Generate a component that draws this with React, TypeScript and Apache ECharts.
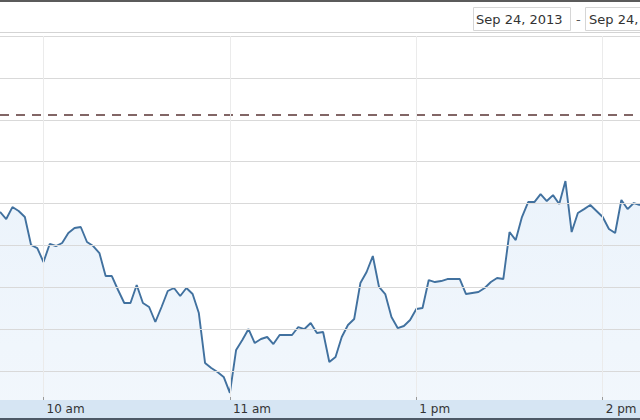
import React, { useEffect, useRef } from "react";
import * as echarts from "echarts";

// Intraday index values, Sep 24, 2013 (one point every ~2 minutes)
const prices = [
  2214.0, 2213.15, 2214.58, 2214.11, 2213.39, 2210.05, 2209.69, 2208.02, 2210.17, 2209.93,
  2210.29, 2211.48, 2212.08, 2212.2, 2210.41, 2209.93, 2209.09, 2206.35, 2206.35, 2204.68,
  2203.13, 2203.13, 2205.27, 2203.13, 2202.65, 2200.86, 2202.65, 2204.56, 2204.92, 2203.96,
  2204.92, 2204.2, 2201.93, 2195.97, 2195.37, 2194.89, 2194.3, 2192.39, 2197.52, 2198.71,
  2200.02, 2198.35, 2198.83, 2199.07, 2198.23, 2199.31, 2199.31, 2199.31, 2200.26, 2200.02,
  2200.74, 2199.55, 2199.67, 2196.09, 2196.68, 2199.07, 2200.5, 2201.22, 2205.51, 2206.83,
  2208.74, 2205.04, 2204.2, 2201.46, 2200.14, 2200.38, 2201.1, 2202.41, 2202.53, 2205.87,
  2205.63, 2205.75, 2205.99, 2205.99, 2205.99, 2204.2, 2204.32, 2204.44, 2204.92, 2205.63,
  2206.11, 2205.99, 2211.6, 2210.64, 2213.39, 2215.18, 2215.18, 2216.13, 2215.3, 2216.01,
  2214.94, 2217.68, 2211.6, 2213.87, 2214.34, 2214.82, 2214.11, 2213.39, 2211.96, 2211.48,
  2215.42, 2214.34, 2215.06, 2214.82,
];
const categories = prices.map((_, i) => String(i));
const tickIndexes = [7, 37, 67, 97];
const tickLabels = ["10 am", "11 am", "1 pm", "2 pm"];
const gridValues = [2195, 2200, 2205, 2210, 2215, 2220, 2225, 2230, 2235];
const prevClose = 2225.56;
const yMin = 2191.55;
const yMax = 2235;
const dateFrom = "Sep 24, 2013";
const dateTo = "Sep 24, 2013";

const isTick = (i: number) => tickIndexes.indexOf(i) >= 0;

export default function App() {
  const ref = useRef<HTMLDivElement>(null);
  useEffect(() => {
    if (!ref.current) return;
    const chart = echarts.init(ref.current, null, { renderer: "svg" });
    const font = "DejaVu Sans, Verdana, sans-serif";
    chart.setOption({
      animation: false,
      backgroundColor: "#ffffff",
      grid: { left: -3.5, right: -3.3, top: 36, bottom: 20, containLabel: false },
      xAxis: {
        type: "category",
        data: categories,
        boundaryGap: false,
        z: 10,
        axisLine: { show: false },
        axisTick: {
          show: true,
          inside: true,
          length: 3,
          interval: (i: number) => isTick(i),
          lineStyle: { color: "#9a9a9a" },
        },
        axisLabel: {
          interval: (i: number) => isTick(i),
          formatter: (_v: string, i: number) => tickLabels[tickIndexes.indexOf(i)] || "",
          align: "left",
          margin: 3,
          padding: [0, 0, 0, 3],
          color: "#333333",
          fontSize: 12,
          fontFamily: font,
        },
        splitLine: {
          show: true,
          interval: (i: number) => isTick(i),
          lineStyle: { color: "#ebebeb", width: 1 },
        },
      },
      yAxis: {
        type: "value",
        min: yMin,
        max: yMax,
        show: true,
        axisLine: { show: false },
        axisTick: { show: false },
        axisLabel: { show: false },
        splitLine: { show: false },
      },
      series: [
        {
          type: "line",
          data: prices,
          symbol: "none",
          smooth: false,
          lineStyle: { color: "#41719f", width: 1.9 },
          itemStyle: { color: "#41719f" },
          areaStyle: {
            color: new echarts.graphic.LinearGradient(0, 0, 0, 1, [
              { offset: 0, color: "rgba(80,150,220,0.16)" },
              { offset: 1, color: "rgba(80,150,220,0.11)" },
            ]),
          },
          markLine: {
            silent: true,
            symbol: ["none", "none"],
            label: { show: false },
            data: [
              ...gridValues.map((v) => ({
                yAxis: v,
                lineStyle: { color: "#d9d9d9", width: 1, type: "solid" },
              })),
              {
                yAxis: prevClose,
                lineStyle: { color: "#5a3535", width: 1.5, type: [9, 7] },
              },
            ],
          },
        },
      ],
      graphic: [
        { type: "rect", z: 1, shape: { x: 0, y: 0, width: 640, height: 2 }, style: { fill: "#5b5b5b" } },
        {
          type: "rect",
          z: 1,
          shape: { x: 473.5, y: 7.5, width: 97, height: 23 },
          style: { fill: "#ffffff", stroke: "#d6d6d6", lineWidth: 1 },
        },
        {
          type: "text",
          z: 2,
          x: 476,
          y: 19,
          style: { text: dateFrom, fill: "#333333", font: `13px ${font}`, verticalAlign: "middle" },
        },
        {
          type: "text",
          z: 2,
          x: 576,
          y: 19,
          style: { text: "-", fill: "#555555", font: `13px ${font}`, verticalAlign: "middle" },
        },
        {
          type: "rect",
          z: 1,
          shape: { x: 585.5, y: 7.5, width: 110, height: 23 },
          style: { fill: "#ffffff", stroke: "#d6d6d6", lineWidth: 1 },
        },
        {
          type: "text",
          z: 2,
          x: 589,
          y: 19,
          style: { text: dateTo, fill: "#333333", font: `13px ${font}`, verticalAlign: "middle" },
        },
        { type: "rect", z: 1, shape: { x: 0, y: 32, width: 640, height: 1 }, style: { fill: "#d4d4d4" } },
        { type: "rect", z: 1, shape: { x: 0, y: 400, width: 640, height: 18 }, style: { fill: "#d6e5f3" } },
        { type: "rect", z: 1, shape: { x: 0, y: 418, width: 640, height: 2 }, style: { fill: "#4d5966" } },
      ],
    });
    return () => chart.dispose();
  }, []);
  return (
    <div
      ref={ref}
      style={{ position: "absolute", left: 0, top: 0, width: 640, height: 420 }}
    />
  );
}
